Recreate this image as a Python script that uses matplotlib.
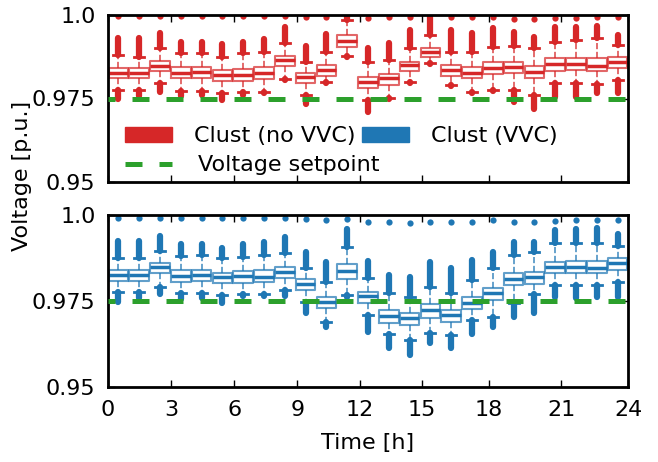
import numpy as np
import matplotlib
matplotlib.use("Agg")
import matplotlib.pyplot as plt
from matplotlib.patches import Patch
from matplotlib.lines import Line2D

# box statistics, one entry per box (25 boxes)
q1_nv = [0.9812, 0.9812, 0.9832, 0.9810, 0.9812, 0.9802, 0.9802, 0.9808, 0.9848, 0.9795, 0.9818, 0.9905, 0.9781,
         0.9790, 0.9832, 0.9875, 0.9818, 0.9810, 0.9822, 0.9825, 0.9810, 0.9832, 0.9835, 0.9832, 0.9840]
med_nv = [0.9827, 0.9827, 0.9848, 0.9825, 0.9828, 0.9820, 0.9820, 0.9825, 0.9865, 0.9815, 0.9835, 0.9922, 0.9798,
          0.9810, 0.9850, 0.9890, 0.9835, 0.9827, 0.9840, 0.9843, 0.9830, 0.9852, 0.9852, 0.9848, 0.9860]
q3_nv = [0.9842, 0.9842, 0.9862, 0.9843, 0.9845, 0.9835, 0.9838, 0.9845, 0.9878, 0.9825, 0.9850, 0.9940, 0.9815,
         0.9822, 0.9860, 0.9902, 0.9850, 0.9845, 0.9858, 0.9860, 0.9847, 0.9870, 0.9872, 0.9870, 0.9875]
whishi_nv = [0.9880, 0.9874, 0.9900, 0.9885, 0.9885, 0.9875, 0.9885, 0.9890, 0.9915, 0.9858, 0.9890, 0.9985, 0.9858,
             0.9865, 0.9900, 0.9940, 0.9890, 0.9890, 0.9905, 0.9908, 0.9900, 0.9920, 0.9925, 0.9930, 0.9910]
hitop_nv = [0.9930, 0.9930, 0.9945, 0.9920, 0.9920, 0.9912, 0.9920, 0.9928, 0.9965, 0.9908, 0.9942, 0.9998, 0.9902,
            0.9915, 0.9955, 0.9998, 0.9955, 0.9945, 0.9960, 0.9950, 0.9935, 0.9965, 0.9965, 0.9968, 0.9940]
whislo_nv = [0.9775, 0.9775, 0.9795, 0.9772, 0.9772, 0.9766, 0.9769, 0.9769, 0.9807, 0.9760, 0.9798, 0.9877, 0.9746,
             0.9751, 0.9800, 0.9855, 0.9790, 0.9768, 0.9775, 0.9775, 0.9760, 0.9795, 0.9795, 0.9792, 0.9805]
lobot_nv = [0.9749, 0.9757, 0.9770, 0.9758, 0.9760, 0.9746, 0.9760, 0.9766, 0.9804, 0.9733, 0.9795, 0.9874, 0.9711,
            0.9748, 0.9797, 0.9852, 0.9787, 0.9765, 0.9772, 0.9740, 0.9720, 0.9755, 0.9755, 0.9766, 0.9766]
dot_nv = [0.9997, 0.9997, 0.9997, 0.9997, 0.9997, 0.9997, 0.9997, 0.9997, 0.9997, 0.9995, 0.9995, np.nan, 0.9992,
          0.9993, 0.9995, np.nan, 0.9995, 0.9993, 0.9995, 0.9988, 0.9988, 0.9990, 0.9990, 0.9993, 0.9993]

q1_v = [0.9808, 0.9808, 0.9830, 0.9806, 0.9808, 0.9801, 0.9801, 0.9806, 0.9818, 0.9782, 0.9729, 0.9814, 0.9743,
        0.9685, 0.9680, 0.9701, 0.9690, 0.9727, 0.9753, 0.9797, 0.9799, 0.9830, 0.9830, 0.9830, 0.9840]
med_v = [0.9826, 0.9826, 0.9850, 0.9824, 0.9826, 0.9821, 0.9824, 0.9821, 0.9835, 0.9799, 0.9748, 0.9837, 0.9765,
         0.9707, 0.9700, 0.9724, 0.9710, 0.9743, 0.9772, 0.9814, 0.9821, 0.9850, 0.9850, 0.9847, 0.9860]
q3_v = [0.9840, 0.9840, 0.9860, 0.9840, 0.9840, 0.9832, 0.9836, 0.9840, 0.9850, 0.9814, 0.9762, 0.9857, 0.9777,
        0.9724, 0.9714, 0.9740, 0.9724, 0.9762, 0.9789, 0.9830, 0.9835, 0.9864, 0.9866, 0.9866, 0.9874]
whishi_v = [0.9876, 0.9874, 0.9895, 0.9882, 0.9884, 0.9874, 0.9879, 0.9884, 0.9889, 0.9847, 0.9806, 0.9908, 0.9816,
            0.9772, 0.9763, 0.9792, 0.9772, 0.9811, 0.9845, 0.9884, 0.9892, 0.9918, 0.9918, 0.9920, 0.9911]
hitop_v = [0.9924, 0.9924, 0.9940, 0.9915, 0.9915, 0.9905, 0.9915, 0.9921, 0.9937, 0.9893, 0.9862, 0.9959, 0.9866,
           0.9826, 0.9821, 0.9864, 0.9845, 0.9869, 0.9893, 0.9921, 0.9922, 0.9956, 0.9959, 0.9962, 0.9944]
whislo_v = [0.9775, 0.9775, 0.9792, 0.9772, 0.9772, 0.9767, 0.9769, 0.9769, 0.9782, 0.9748, 0.9690, 0.9767, 0.9709,
            0.9653, 0.9637, 0.9656, 0.9651, 0.9695, 0.9704, 0.9743, 0.9769, 0.9797, 0.9797, 0.9797, 0.9806]
lobot_v = [0.9748, 0.9760, 0.9769, 0.9756, 0.9758, 0.9743, 0.9765, 0.9765, 0.9765, 0.9714, 0.9675, 0.9763, 0.9661,
           0.9612, 0.9593, 0.9627, 0.9612, 0.9653, 0.9675, 0.9704, 0.9714, 0.9763, 0.9760, 0.9763, 0.9763]
dot_v = [0.9990, 0.9990, 0.9990, 0.9990, 0.9990, 0.9990, 0.9990, 0.9990, 0.9990, 0.9988, 0.9985, 0.9988, 0.9981,
         0.9979, 0.9976, 0.9981, 0.9979, 0.9981, 0.9985, 0.9979, 0.9979, 0.9983, 0.9985, 0.9985, 0.9985]

setpoint = 0.975
tick_pos = [0, 3.05, 6.07, 9.1, 12.1, 15.1, 18.3, 21.8, 25]
tick_labels = ["0", "3", "6", "9", "12", "15", "18", "21", "24"]

red = "#d62728"
blue = "#1f77b4"
green = "#2ca02c"

pos = np.arange(len(q1_nv)) + 0.5


def panel(ax, q1, med, q3, wlo, whi, hitop, lobot, dots, color):
    stats = [dict(q1=a, med=b, q3=c, whislo=d, whishi=e, fliers=[])
             for a, b, c, d, e in zip(q1, med, q3, wlo, whi)]
    ax.bxp(stats, positions=pos, widths=0.95, showfliers=False, manage_ticks=False,
           boxprops=dict(color=color, lw=1.5, alpha=0.7),
           medianprops=dict(color=color, lw=2.5),
           whiskerprops=dict(color=color, lw=1.2, linestyle="--", alpha=0.8),
           capprops=dict(color=color, lw=2))
    lc = ax.vlines(pos, whi, hitop, colors=color, lw=4.5)
    lc.set_capstyle("round")
    lc = ax.vlines(pos, lobot, wlo, colors=color, lw=4.5)
    lc.set_capstyle("round")
    ax.plot(pos, dots, "o", color=color, ms=4.5, mec="none")
    ax.plot([0, 25], [setpoint, setpoint], color=green, lw=3.6,
            linestyle=(2, (3.4, 3.4)), zorder=5)
    ax.set_xlim(0, 25)
    ax.set_ylim(0.95, 1.0)
    ax.set_yticks([0.95, 0.975, 1.0])
    ax.set_yticklabels(["0.95", "0.975", "1.0"])
    ax.set_xticks(tick_pos)
    ax.set_xticklabels(tick_labels)
    ax.tick_params(direction="in", top=True, right=True, length=5, width=1,
                   labelsize=16, pad=9)
    for s in ax.spines.values():
        s.set_linewidth(2)


fig = plt.figure(figsize=(6.58, 4.62), dpi=100)
ax1 = fig.add_axes([108 / 658, 1 - 182 / 462, 520 / 658, 167 / 462])
ax2 = fig.add_axes([108 / 658, 1 - 387 / 462, 520 / 658, 172 / 462])

panel(ax1, q1_nv, med_nv, q3_nv, whislo_nv, whishi_nv, hitop_nv, lobot_nv, dot_nv, red)
panel(ax2, q1_v, med_v, q3_v, whislo_v, whishi_v, hitop_v, lobot_v, dot_v, blue)
ax1.tick_params(labelbottom=False)

leg1 = ax1.legend(handles=[Patch(color=red, label="Clust (no VVC)"),
                           Patch(color=blue, label="Clust (VVC)")],
                  loc="center left", bbox_to_anchor=(17 / 520, 0.275), ncol=2,
                  frameon=False, fontsize=16, borderpad=0, borderaxespad=0,
                  handlelength=2.1, handletextpad=1.0, columnspacing=0.3)
ax1.add_artist(leg1)
ax1.legend(handles=[Line2D([], [], color=green, lw=3.6, linestyle=(0, (3.4, 3.4)),
                           label="Voltage setpoint")],
           loc="center left", bbox_to_anchor=(17 / 520, 0.10),
           frameon=False, fontsize=16, borderpad=0, borderaxespad=0,
           handlelength=2.1, handletextpad=1.2)

ax2.set_xlabel("Time [h]", fontsize=16, labelpad=10)
fig.text(22 / 658, 1 - 176 / 462, "Voltage [p.u.]", rotation=90, fontsize=16,
         ha="center", va="center")

fig.savefig("out.png", dpi=100)
